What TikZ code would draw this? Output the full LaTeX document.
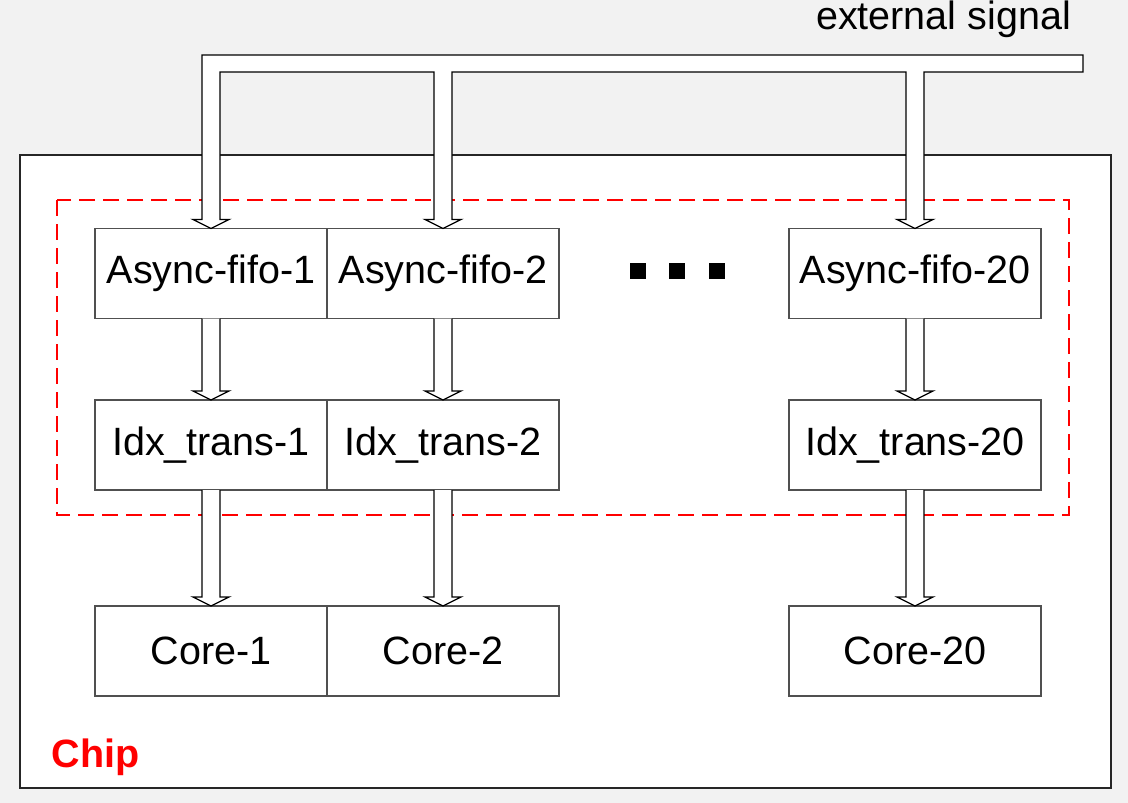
\documentclass[tikz,border=0pt]{standalone}
\usepackage{fontspec}
\setmainfont{Liberation Sans}
\usepackage{xcolor}
\usetikzlibrary{calc}

\definecolor{bggray}{HTML}{F2F2F2}
\definecolor{boxgray}{HTML}{505050}

\tikzset{
  block/.style={draw=boxgray,line width=1.2pt,fill=white,minimum width=232pt,minimum height=90pt,inner sep=0pt,outer sep=0pt,font=\fontsize{39.5}{47}\selectfont},
  fatline/.style={draw=black,line width=1.3pt,fill=white,line join=miter},
}
% hollow arrow from the bottom of one block to the top of the next
\newcommand{\fatarrow}[2]{%
  \draw[fatline] let \p1=(#1.south), \p2=(#2.north) in
    (\x1-9pt,\y1) -- (\x1-9pt,\y2+9pt) -- (\x1-18pt,\y2+9pt) -- (\x1,\y2)
    -- (\x1+18pt,\y2+9pt) -- (\x1+9pt,\y2+9pt) -- (\x1+9pt,\y1);}

\begin{document}
\begin{tikzpicture}[x=1pt,y=-1pt]
  \useasboundingbox[fill=bggray] (0,0) rectangle (1128,803);
  \draw[black!85,line width=2pt,fill=white] (20,155) rectangle (1111,788);
  \draw[red,line width=2pt,dash pattern=on 16pt off 8pt] (57,200) rectangle (1069,515);
  \node[anchor=base west,red,font=\fontsize{39.5}{47}\selectfont\bfseries] (chip) at (48,767) {Chip};
  \node[font=\fontsize{39.5}{47}\selectfont] (ext) at (943.5,19) {external signal};

  % first stage
  \node[block] (fifo1) at (211,273.5) {Async-fifo-1};
  \node[block] (fifo2) at (443,273.5) {Async-fifo-2};
  \node[block,minimum width=252pt] (fifo20) at (915,273.5) {Async-fifo-20};
  % second stage
  \node[block] (idx1) at (211,445) {Idx\_trans-1};
  \node[block] (idx2) at (443,445) {Idx\_trans-2};
  \node[block,minimum width=252pt] (idx20) at (915,445) {Idx\_trans-20};
  % cores
  \node[block] (core1) at (211,651) {Core-1};
  \node[block] (core2) at (443,651) {Core-2};
  \node[block,minimum width=252pt] (core20) at (915,651) {Core-20};

  \foreach \dx in {637.5,677,716.5}
    \fill (\dx-8,262.5) rectangle (\dx+8,278.5);

  \coordinate (busin) at (0,72);
  \coordinate (busout) at (1083,55);
  \draw[fatline] let \p1=(fifo1.north), \p2=(fifo2.north), \p3=(fifo20.north), \p4=(busin), \p5=(busout) in
    (\p1) -- (\x1+18pt,\y1+9pt) -- (\x1+9pt,\y1+9pt) -- (\x1+9pt,\y4) -- (\x2-9pt,\y4)
    -- (\x2-9pt,\y2+9pt) -- (\x2-18pt,\y2+9pt) -- (\p2) -- (\x2+18pt,\y2+9pt) -- (\x2+9pt,\y2+9pt)
    -- (\x2+9pt,\y4) -- (\x3-9pt,\y4) -- (\x3-9pt,\y3+9pt) -- (\x3-18pt,\y3+9pt) -- (\p3)
    -- (\x3+18pt,\y3+9pt) -- (\x3+9pt,\y3+9pt) -- (\x3+9pt,\y4) -- (\x5,\y4) -- (\p5)
    -- (\x1-9pt,\y5) -- (\x1-9pt,\y1+9pt) -- (\x1-18pt,\y1+9pt) -- cycle;

  \fatarrow{fifo1}{idx1}
  \fatarrow{fifo2}{idx2}
  \fatarrow{fifo20}{idx20}
  \fatarrow{idx1}{core1}
  \fatarrow{idx2}{core2}
  \fatarrow{idx20}{core20}
\end{tikzpicture}
\end{document}
